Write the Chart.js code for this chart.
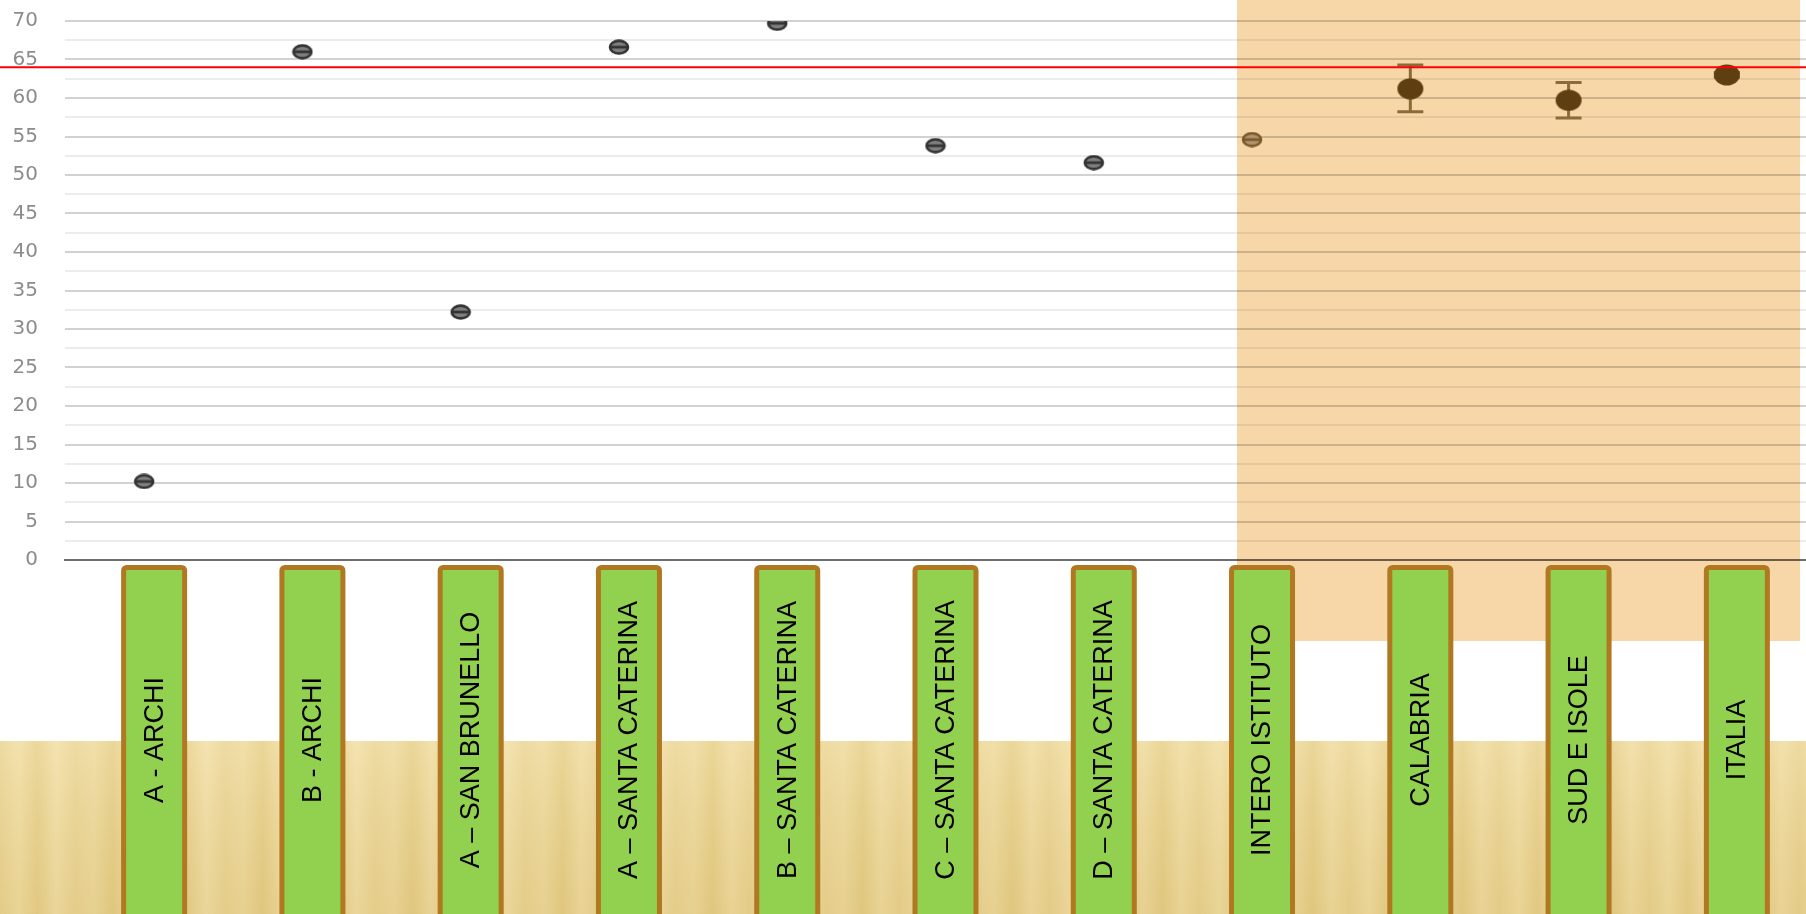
<!DOCTYPE html>
<html lang="it">
<head>
<meta charset="utf-8">
<title>Risultati per classe</title>
<script src="https://cdn.jsdelivr.net/npm/chart.js@4.4.1/dist/chart.umd.min.js"></script>
<style>
  html, body { margin: 0; padding: 0; background: #ffffff; }
  #grafico { display: block; }
</style>
</head>
<body>
<canvas id="grafico" width="1806" height="914"></canvas>
<script>
// categorie (classi e riferimenti)
const etichette = ['A - ARCHI', 'B - ARCHI', 'A – SAN BRUNELLO', 'A – SANTA CATERINA', 'B – SANTA CATERINA',
  'C – SANTA CATERINA', 'D – SANTA CATERINA', 'INTERO ISTITUTO', 'CALABRIA', 'SUD E ISOLE', 'ITALIA'];

// punteggi delle classi / istituto
const punteggiClassi = [10.2, 66.0, 32.2, 66.6, 69.7, 53.8, 51.6, 54.6, null, null, null];
// punteggi di riferimento con intervallo
const punteggiRiferimento = [null, null, null, null, null, null, null, null, 61.2, 59.7, 63.0];
const intervalloMin = [null, null, null, null, null, null, null, null, 58.2, 57.4, 62.7];
const intervalloMax = [null, null, null, null, null, null, null, null, 64.3, 62.0, 63.3];

// linea rossa
const valoreSoglia = 64;

// tick asse y
const tickMin = 0;
const tickMax = 70;
const tickPasso = 2.5;

// marker piccolo (ellisse con trattino)
function markerPiccolo(bordo, riempimento) {
  var c = document.createElement('canvas');
  c.width = 22; c.height = 16;
  var g = c.getContext('2d');
  g.beginPath();
  g.ellipse(11, 8, 9, 6.4, 0, 0, Math.PI * 2);
  g.fillStyle = riempimento;
  g.fill();
  g.lineWidth = 2.6;
  g.strokeStyle = bordo;
  g.stroke();
  g.beginPath();
  g.moveTo(3, 8); g.lineTo(21, 8);
  g.lineWidth = 2.8;
  g.stroke();
  return c;
}

// marker grande (ellisse piena)
function markerGrande(colore) {
  var c = document.createElement('canvas');
  c.width = 28; c.height = 22;
  var g = c.getContext('2d');
  g.beginPath();
  g.ellipse(14, 11, 13, 10.5, 0, 0, Math.PI * 2);
  g.fillStyle = colore;
  g.fill();
  return c;
}

const mScuro = markerPiccolo('#333333', '#808080');
const mIstituto = markerPiccolo('#7a5a2c', '#b39670');
const mRif = markerGrande('#5e3f12');
const stiliClassi = punteggiClassi.map(function (v, i) { return i == 7 ? mIstituto : mScuro; });

// sfondo bianco + fascia legno in basso
const pluginSfondo = {
  id: 'sfondo',
  beforeDraw(chart) {
    const ctx = chart.ctx;
    const W = chart.width, H = chart.height;
    ctx.save();
    ctx.fillStyle = '#ffffff';
    ctx.fillRect(0, 0, W, H);

    const yLegno = 741;
    var pat = document.createElement('canvas');
    pat.width = 150; pat.height = H - yLegno;
    var p = pat.getContext('2d');
    var gr = p.createLinearGradient(0, 0, 150, 0);
    var toni = ['#e6cf8e', '#eedaa0', '#e4cb86', '#efdca5', '#e7d090', '#ebd69a', '#e2c982', '#edd89e', '#e6ce8c'];
    toni.forEach(function (t, i) { gr.addColorStop(i / (toni.length - 1), t); });
    p.fillStyle = gr;
    p.fillRect(0, 0, 150, pat.height);
    var vg = p.createLinearGradient(0, 0, 0, pat.height);
    vg.addColorStop(0, 'rgba(255,245,205,0.3)');
    vg.addColorStop(1, 'rgba(215,188,110,0.2)');
    p.fillStyle = vg;
    p.fillRect(0, 0, 150, pat.height);

    ctx.translate(0, yLegno);
    ctx.fillStyle = ctx.createPattern(pat, 'repeat-x');
    ctx.fillRect(0, 0, W, H - yLegno);
    ctx.restore();
  }
};

// riquadro arancione sui riferimenti + barre di errore
const pluginRiquadro = {
  id: 'riquadro',
  beforeDatasetsDraw(chart) {
    const ctx = chart.ctx;
    const x = chart.scales.x;
    const y = chart.scales.y;
    ctx.save();
    const sx = x.getPixelForValue(7) - 15;
    ctx.globalCompositeOperation = 'multiply';
    ctx.fillStyle = '#f7d7a8';
    ctx.fillRect(sx, 0, chart.width - 6 - sx, 641);
    ctx.globalCompositeOperation = 'source-over';

    ctx.strokeStyle = '#8b6b38';
    ctx.lineWidth = 3;
    for (var i = 0; i < etichette.length; i++) {
      if (intervalloMin[i] == null) continue;
      var px = x.getPixelForValue(i);
      var y1 = y.getPixelForValue(intervalloMin[i]);
      var y2 = y.getPixelForValue(intervalloMax[i]);
      ctx.beginPath();
      ctx.moveTo(px, y1); ctx.lineTo(px, y2);
      ctx.moveTo(px - 13, y1); ctx.lineTo(px + 13, y1);
      ctx.moveTo(px - 13, y2); ctx.lineTo(px + 13, y2);
      ctx.stroke();
    }
    ctx.restore();
  },
  afterDatasetsDraw(chart) {
    const ctx = chart.ctx;
    const yy = chart.scales.y.getPixelForValue(valoreSoglia);
    ctx.save();
    ctx.strokeStyle = '#ff0000';
    ctx.lineWidth = 2;
    ctx.beginPath();
    ctx.moveTo(0, yy); ctx.lineTo(chart.width, yy);
    ctx.stroke();
    ctx.restore();
  }
};

// etichette in riquadri verdi
const pluginEtichette = {
  id: 'etichette',
  afterDraw(chart) {
    const ctx = chart.ctx;
    const x = chart.scales.x;
    ctx.save();
    for (var i = 0; i < etichette.length; i++) {
      var cx = x.getPixelForValue(i) + 10;
      ctx.beginPath();
      ctx.roundRect(cx - 30.5, 567.5, 61, 360, 3);
      ctx.fillStyle = '#92d050';
      ctx.fill();
      ctx.lineWidth = 5;
      ctx.strokeStyle = '#b07820';
      ctx.stroke();

      ctx.save();
      ctx.translate(cx + 1, 740);
      ctx.rotate(-Math.PI / 2);
      ctx.font = '27px "Liberation Sans", Arial, sans-serif';
      ctx.fillStyle = '#000000';
      ctx.textAlign = 'center';
      ctx.textBaseline = 'middle';
      ctx.fillText(etichette[i], 0, 0);
      ctx.restore();
    }
    ctx.restore();
  }
};

new Chart(document.getElementById('grafico'), {
  type: 'line',
  data: {
    labels: etichette,
    datasets: [{
      label: 'Classi',
      data: punteggiClassi,
      showLine: false,
      pointStyle: stiliClassi,
      pointRadius: 10,
      pointHoverRadius: 10
    }, {
      label: 'Riferimenti',
      data: punteggiRiferimento,
      showLine: false,
      pointStyle: mRif,
      pointRadius: 12,
      pointHoverRadius: 12
    }]
  },
  options: {
    responsive: false,
    animation: false,
    layout: { autoPadding: false, padding: { top: 21, left: 0, right: 0, bottom: 0 } },
    plugins: {
      legend: { display: false },
      tooltip: { enabled: false }
    },
    scales: {
      x: {
        type: 'category',
        offset: true,
        grid: { display: false, drawTicks: false },
        border: { color: '#6e6e6e', width: 2 },
        ticks: { display: false },
        afterFit(scale) { scale.height = 354; }
      },
      y: {
        min: tickMin,
        max: tickMax,
        grid: {
          drawTicks: false,
          lineWidth: 2,
          color: function (c) { return c.tick.value % 5 === 0 ? '#d2d2d2' : '#ececec'; }
        },
        border: { display: false },
        ticks: {
          autoSkip: false,
          padding: 27,
          color: '#8c8c8c',
          font: { family: '"DejaVu Sans", sans-serif', size: 20 },
          callback: function (v) { return v % 5 === 0 ? v : ''; }
        },
        afterBuildTicks(scale) {
          var t = [];
          for (var v = tickMin; v <= tickMax + 0.001; v += tickPasso) t.push({ value: v });
          scale.ticks = t;
        },
        afterFit(scale) {
          scale.width = 65;
          scale.paddingTop = 0;
          scale.paddingBottom = 0;
        }
      }
    }
  },
  plugins: [pluginSfondo, pluginRiquadro, pluginEtichette]
});
</script>
</body>
</html>
